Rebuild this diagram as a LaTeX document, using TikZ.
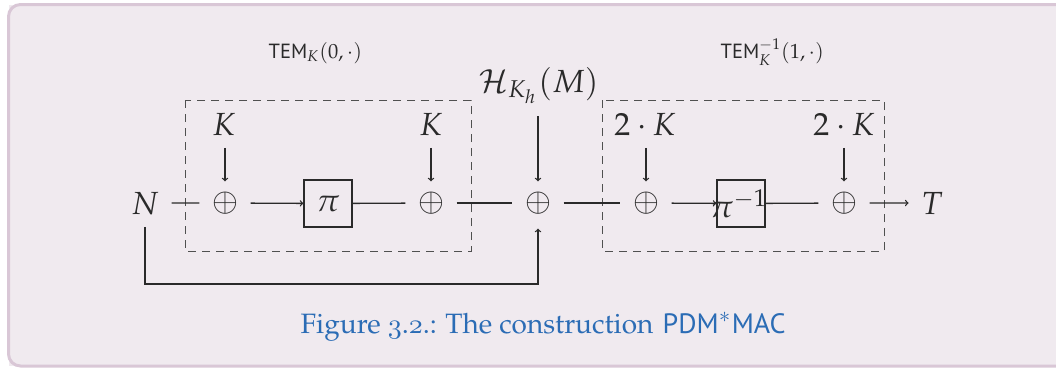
\RequirePackage{fix-cm}
\documentclass[tikz,border=0pt]{standalone}
\IfFileExists{mathpazo.sty}{\usepackage{mathpazo}}{}
\usepackage{fontspec}
\newfontfamily\labsf{PT Sans}
\definecolor{bgc}{HTML}{F0EAEF}
\definecolor{framec}{HTML}{D9C7D6}
\definecolor{capc}{HTML}{2B6CB5}
\definecolor{linec}{HTML}{2A2A2A}
\definecolor{dashc}{HTML}{505050}
\newcommand\dgm[1]{\scalebox{3.2}{#1}}
\newcommand\lab[1]{\scalebox{2.05}{#1}}
\newcommand\osf[1]{{\fontencoding{OML}\fontfamily{cmm}\fontseries{m}\fontshape{it}\selectfont #1}}
\newcommand\capserif{\IfFileExists{ot1ppl.fd}{\fontencoding{OT1}\fontfamily{ppl}\selectfont}{}}
\begin{document}
\begin{tikzpicture}[x=1pt,y=-1pt,line width=1.3pt,color=linec,
  lbl/.style={inner sep=12pt},
  xo/.style={inner sep=0pt,minimum width=50pt,minimum height=42pt},
  blk/.style={draw,inner sep=0pt,minimum width=48pt,minimum height=47pt},
  grp/.style={draw=dashc,dash pattern=on 8pt off 6pt,line width=1pt},
  tem/.style={anchor=base west,inner sep=0pt},
  wire/.style={draw},
  arr/.style={draw,->}]
\useasboundingbox (0,0) rectangle (1056,367);
\fill[bgc] (8.5,4.5) rectangle (1056,366);
\draw[line width=3pt,draw=framec,rounded corners=12pt] (1070,4.5) -- (8.5,4.5) -- (8.5,366) -- (1070,366);
% groups
\draw[grp] (185,100) rectangle (471,251);
\draw[grp] (602,100) rectangle (884,251);
\node[tem] (L1) at (268,58) {\lab{{\labsf TEM}$_K(0,\cdot)$}};
\node[tem] (L2) at (720,58) {\lab{{\labsf TEM}$_K^{-1}(1,\cdot)$}};
% main row
\node[lbl,anchor=base] (N) at (145,214) {\dgm{$N$}};
\node[xo] (o1) at (225,203) {\dgm{$\oplus$}};
\node[blk] (p) at (328,203.5) {\dgm{$\pi$}};
\node[xo] (o2) at (431,203) {\dgm{$\oplus$}};
\node[xo] (o3) at (538,203) {\dgm{$\oplus$}};
\node[xo] (o4) at (646,203) {\dgm{$\oplus$}};
\node[blk] (pi) at (741,203.5) {\makebox[0pt]{\hspace{-4pt}\dgm{$\pi^{-1}$}}};
\node[xo] (o5) at (844,203) {\dgm{$\oplus$}};
\node[lbl,anchor=base] (T) at (932,214) {\dgm{$T$}};
% inputs
\node[lbl,anchor=base] (K1) at (224,135) {\dgm{$K$}};
\node[lbl,anchor=base] (K2) at (431,135) {\dgm{$K$}};
\node[lbl,anchor=base] (H) at (539,92) {\dgm{$\mathcal{H}_{K_h}(M)$}};
\node[lbl,anchor=base] (K3) at (645,135) {\dgm{$2\cdot K$}};
\node[lbl,anchor=base] (K4) at (844,135) {\dgm{$2\cdot K$}};
% wires
\draw[wire] (N) -- (o1);
\draw[arr] (o1) -- (p);
\draw[wire] (p) -- (o2);
\draw[wire] (o2) -- (o3);
\draw[wire] (o3) -- (o4);
\draw[arr] (o4) -- (pi);
\draw[wire] (pi) -- (o5);
\draw[arr] (o5) -- (T);
\draw[arr] (o1 |- K1.south) -- (o1.north);
\draw[arr] (o2 |- K2.south) -- (o2.north);
\draw[arr] (o3 |- H.south) -- (o3.north);
\draw[arr] (o4 |- K3.south) -- (o4.north);
\draw[arr] (o5 |- K4.south) -- (o5.north);
\draw[arr,shorten >=4pt] (N.south) -- ++(0,57) -| (o3.south);
% caption
\node[anchor=base west,inner sep=0pt,text=capc] (cap) at (300,333)
  {\scalebox{2.8}{{\capserif Figure \osf{3}.\osf{2}.: The construction} {\labsf PDM}$^*${\labsf MAC}}};
\end{tikzpicture}
\end{document}
